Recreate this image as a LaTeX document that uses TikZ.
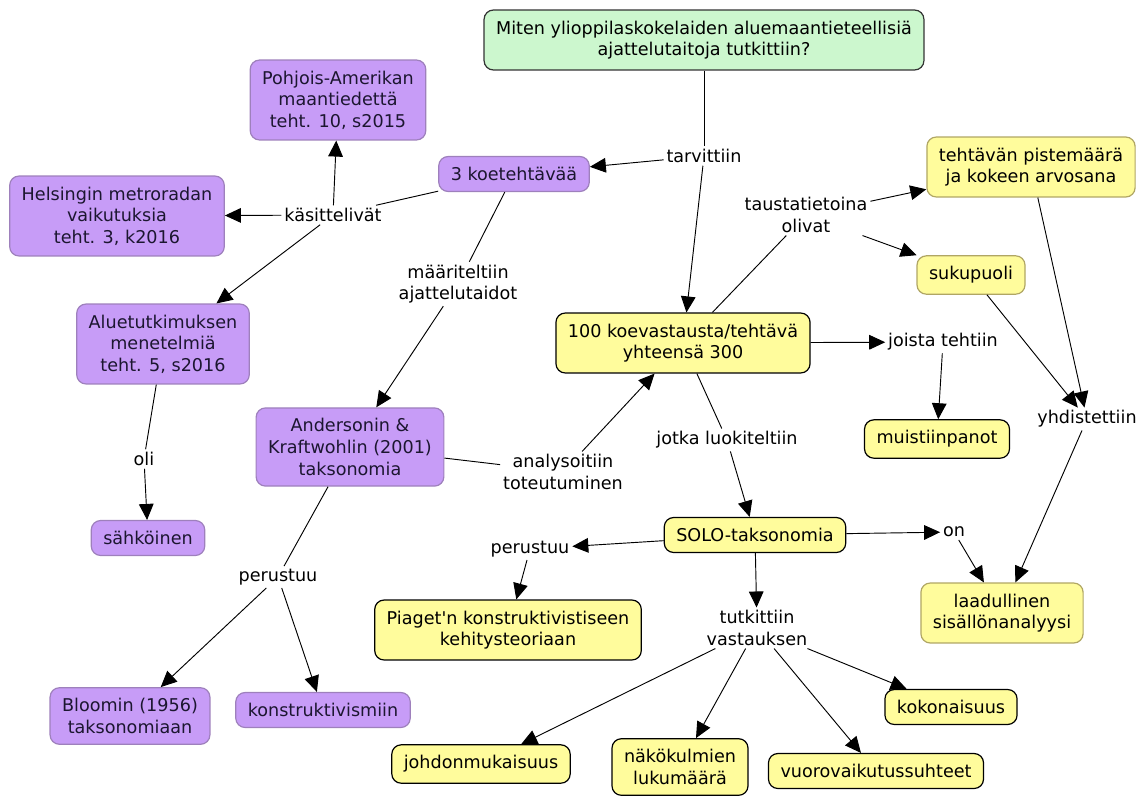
\documentclass[tikz,border=0pt]{standalone}
\usepackage{fontspec}
\setmainfont{DejaVu Sans}
\usepackage{xcolor}
\usetikzlibrary{arrows.meta}
\definecolor{lilac}{RGB}{199,156,247}
\definecolor{lilacedge}{RGB}{158,128,188}
\definecolor{lilacink}{RGB}{28,22,48}
\definecolor{paleyellow}{RGB}{255,252,156}
\definecolor{oliveedge}{RGB}{176,166,100}
\definecolor{palegreen}{RGB}{204,247,206}
\tikzset{
  box/.style={rounded corners=7pt, line width=0.9pt, align=center,
    inner xsep=9pt, inner ysep=8pt},
  pnode/.style={box, fill=lilac, draw=lilacedge, text=lilacink},
  ynode/.style={box, fill=paleyellow, draw=oliveedge},
  ynodeb/.style={box, fill=paleyellow, draw=black},
  qnode/.style={box, fill=palegreen, draw=black!80},
  lbl/.style={align=center, inner sep=2pt},
  link/.style={line width=0.7pt},
  arr/.style={line width=0.7pt, -{Triangle[length=12pt,width=11pt]}},
}

\begin{document}
\begin{tikzpicture}[x=0.75pt, y=-0.75pt, font=\fontsize{13.2}{16.2}\selectfont]
\useasboundingbox (0,0) rectangle (1144,796);

%%%%%%%%%%%%%%%%%%%%%%%%%%%%%%%%%%%%%%%%%%%%%%%%%%%%%%%%%%%%%% Concepts
\node[qnode] (Q) at (704,40) {Miten ylioppilaskokelaiden aluemaantieteellisiä\\ajattelutaitoja tutkittiin?};

\node[pnode] (pohjois) at (338,100) {Pohjois-Amerikan\\maantiedettä\\teht. 10, s2015};
\node[pnode] (helsinki) at (117,216) {Helsingin metroradan\\vaikutuksia\\teht. 3, k2016};
\node[pnode] (koe3) at (514,174) {3 koetehtävää};
\node[pnode] (alue) at (163,344) {Aluetutkimuksen\\menetelmiä\\teht. 5, s2016};
\node[pnode] (anders) at (350,447) {Andersonin \&\\Kraftwohlin (2001)\\taksonomia};
\node[pnode] (sahko) at (148,538) {sähköinen};
\node[pnode] (bloom) at (130,716) {Bloomin (1956)\\taksonomiaan};
\node[pnode] (konstr) at (323,710) {konstruktivismiin};

\node[ynodeb] (vast) at (683,343) {100 koevastausta/tehtävä\\yhteensä 300};
\node[ynode] (pisteet) at (1031,167) {tehtävän pistemäärä\\ja kokeen arvosana};
\node[ynode] (suku) at (971,275) {sukupuoli};
\node[ynodeb] (muist) at (937,439) {muistiinpanot};
\node[ynodeb] (solo) at (755,535) {SOLO-taksonomia};
\node[ynode] (laad) at (1002,613) {laadullinen\\sisällönanalyysi};
\node[ynodeb] (piaget) at (508,630) {Piaget\textquotesingle n konstruktivistiseen\\kehitysteoriaan};
\node[ynodeb] (kokon) at (951,707) {kokonaisuus};
\node[ynodeb] (johdon) at (481,764) {johdonmukaisuus};
\node[ynodeb] (nako) at (680,767) {näkökulmien\\lukumäärä};
\node[ynodeb] (vuoro) at (876,771) {vuorovaikutussuhteet};

%%%%%%%%%%%%%%%%%%%%%%%%%%%%%%%%%%%%%%%%%%%%%%%%%%%%%%%%%%%%%% Linking words
\node[lbl] (lTarv) at (704,156) {tarvittiin};
\node[lbl] (lKas) at (333,215) {käsittelivät};
\node[lbl] (lMaar) at (458,284) {määriteltiin\\ajattelutaidot};
\node[lbl] (lOli) at (144,459) {oli};
\node[lbl] (lAnal) at (563,472) {analysoitiin\\toteutuminen};
\node[lbl] (lPer1) at (278,577) {perustuu};
\node[lbl] (lTaus) at (806,215) {taustatietoina\\olivat};
\node[lbl] (lJois) at (943,342) {joista tehtiin};
\node[lbl] (lJotk) at (727,440) {jotka luokiteltiin};
\node[lbl] (lOn) at (954,532) {on};
\node[lbl] (lPer2) at (530,549) {perustuu};
\node[lbl] (lTutk) at (757,628) {tutkittiin\\vastauksen};
\node[lbl] (lYhd) at (1087,419) {yhdistettiin};

%%%%%%%%%%%%%%%%%%%%%%%%%%%%%%%%%%%%%%%%%%%%%%%%%%%%%%%%%%%%%% Links
\draw[link] (Q) -- (lTarv);
\draw[arr] (lTarv) -- (koe3);
\draw[arr] (lTarv) -- (vast);

\draw[link] (koe3) -- (lKas);
\draw[arr] (lKas) -- (pohjois);
\draw[arr] (lKas) -- (helsinki);
\draw[arr] (lKas) -- (alue);

\draw[link] (koe3) -- (lMaar);
\draw[arr] (lMaar) -- (anders);

\draw[link] (alue) -- (lOli);
\draw[arr] (lOli) -- (sahko);

\draw[link] (anders) -- (lAnal);
\draw[arr] (lAnal) -- (vast);

\draw[link] (anders) -- (lPer1);
\draw[arr] (lPer1) -- (bloom);
\draw[arr] (lPer1) -- (konstr);

\draw[link] (vast) -- (lTaus);
\draw[arr] (lTaus) -- (pisteet);
\draw[arr] (lTaus) -- (suku);

\draw[arr] (vast) -- (lJois);
\draw[arr] (lJois) -- (muist);

\draw[link] (vast) -- (lJotk);
\draw[arr] (lJotk) -- (solo);

\draw[arr] (solo) -- (lOn);
\draw[arr] (lOn) -- (laad);

\draw[arr] (solo) -- (lPer2);
\draw[arr] (lPer2) -- (piaget);

\draw[arr] (solo) -- (lTutk);
\draw[arr] (lTutk) -- (johdon);
\draw[arr] (lTutk) -- (nako);
\draw[arr] (lTutk) -- (vuoro);
\draw[arr] (lTutk) -- (kokon);

\draw[arr] (pisteet) -- (lYhd);
\draw[arr] (suku) -- (lYhd);
\draw[arr] (lYhd) -- (laad);

\end{tikzpicture}
\end{document}
